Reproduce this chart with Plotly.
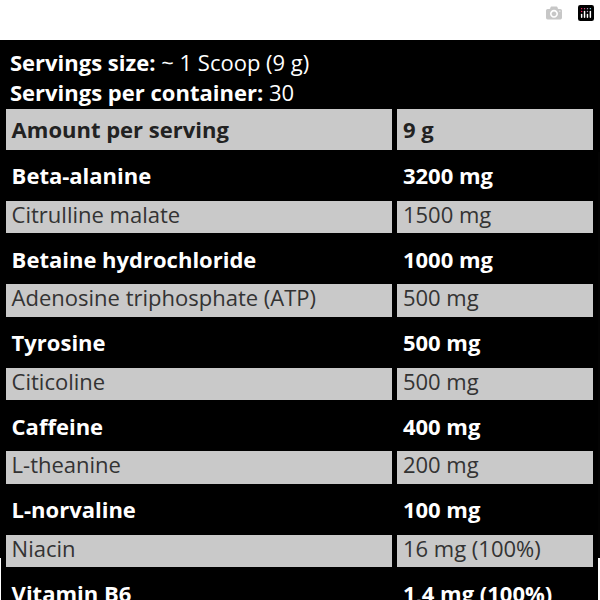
import plotly.graph_objects as go

ingredients = ["Beta-alanine", "Citrulline malate", "Betaine hydrochloride",
               "Adenosine triphosphate (ATP)", "Tyrosine", "Citicoline", "Caffeine",
               "L-theanine", "L-norvaline", "Niacin", "Vitamin B6"]
amounts = ["3200 mg", "1500 mg", "1000 mg", "500 mg", "500 mg", "500 mg",
           "400 mg", "200 mg", "100 mg", "16 mg (100%)", "1,4 mg (100%)"]
header = ["<b>Amount per serving</b>", "<b>9 g</b>"]
serving_size = "~ 1 Scoop (9 g)"
servings = "30"

GRAY = "#c9c9c9"
FONT = "Open Sans"
fills = ["black" if i % 2 == 0 else GRAY for i in range(len(ingredients))]
fonts = ["white" if i % 2 == 0 else "#333333" for i in range(len(ingredients))]
left = [f"<b>{t}</b>" if i % 2 == 0 else t for i, t in enumerate(ingredients)]
right = [f"<b>{t}</b>" if i % 2 == 0 else t for i, t in enumerate(amounts)]

fig = go.Figure(go.Table(
    domain=dict(x=[0.006, 0.994], y=[0.0, 1 - 106 / 600]),
    columnwidth=[390, 200],
    header=dict(values=header, fill_color=GRAY, line=dict(color="black", width=5),
                font=dict(family=FONT, size=22, color="#222222"),
                align="left", height=37.5),
    cells=dict(values=[left, right], fill_color=[fills, fills],
               line=dict(color="black", width=5),
               font=dict(family=FONT, size=22, color=[fonts, fonts]),
               align="left", height=37.5),
))

fig.add_shape(type="rect", xref="paper", yref="paper", x0=0, x1=1,
              y0=1 - 558 / 600, y1=1 - 40 / 600, fillcolor="black", line_width=0, layer="below")
fig.add_annotation(text=f"<b>Servings size:</b> {serving_size}", xref="paper", yref="paper",
                   x=0.013, y=1 - 62 / 600, xanchor="left", yanchor="middle", showarrow=False,
                   font=dict(family=FONT, size=22, color="white"))
fig.add_annotation(text=f"<b>Servings per container:</b> {servings}", xref="paper", yref="paper",
                   x=0.013, y=1 - 92 / 600, xanchor="left", yanchor="middle", showarrow=False,
                   font=dict(family=FONT, size=22, color="white"))

fig.update_layout(width=600, height=600, margin=dict(l=0, r=0, t=0, b=0),
                  paper_bgcolor="white", plot_bgcolor="white")
fig.write_html("out.html", post_script="document.body.style.margin='0';")
